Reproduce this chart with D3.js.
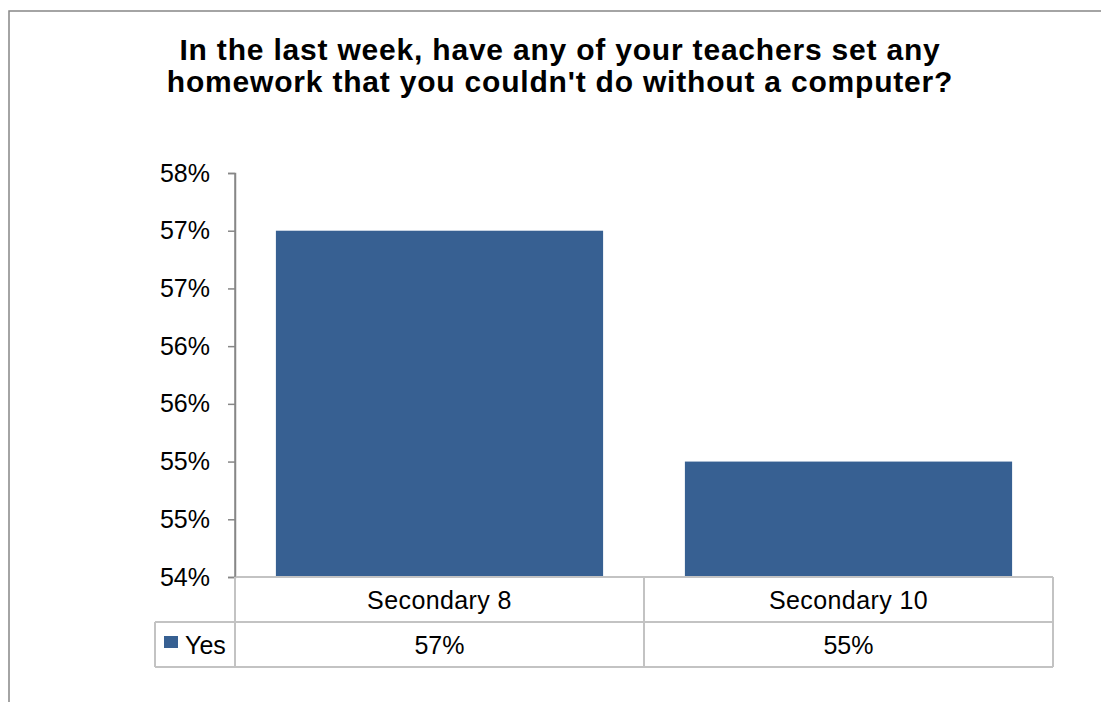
<!DOCTYPE html>
<html>
<head>
<meta charset="utf-8">
<script src="https://cdn.jsdelivr.net/npm/d3@7"></script>
<style>
  html, body { margin: 0; padding: 0; background: #fff; }
  svg { display: block; }
  text { font-family: "Liberation Sans", Arial, sans-serif; fill: #000; }
</style>
</head>
<body>
<svg id="chart" width="1101" height="702"></svg>
<script>
// Survey answer, share of pupils who said "Yes"
const titleLines = [
  "In the last week, have any of your teachers set any",
  "homework that you couldn't do without a computer?"
];
const categories = ["Secondary 8", "Secondary 10"];
const seriesName = "Yes";
const yesValues = [57, 55];
const yesLabels = ["57%", "55%"];
const tickValues = [54, 54.5, 55, 55.5, 56, 56.5, 57, 57.5];
const tickLabels = ["54%", "55%", "55%", "56%", "56%", "57%", "57%", "58%"];

const svg = d3.select("#chart");
const W = 1101, H = 702;

const plot = { left: 235, right: 1053, top: 173, bottom: 577 };
const rowH = 45;
const legendLeft = 155;
const barColor = "#376092";
const gridGray = "#c3c3c3";
const axisGray = "#878787";
const labelSize = "25px";

// outer chart frame
svg.append("rect")
  .attr("x", 9).attr("y", 11)
  .attr("width", W + 20).attr("height", H + 20)
  .attr("fill", "#fff")
  .attr("stroke", axisGray).attr("stroke-width", 1.5);

// title
svg.append("g").selectAll("text")
  .data(titleLines)
  .join("text")
  .attr("x", 560)
  .attr("y", (d, i) => 60 + i * 32)
  .attr("text-anchor", "middle")
  .style("font-size", "30px")
  .style("letter-spacing", "0.8px")
  .style("font-weight", "bold")
  .text(d => d);

const x = d3.scaleBand()
  .domain(categories)
  .range([plot.left, plot.right])
  .paddingInner(0.2)
  .paddingOuter(0.1);

const y = d3.scaleLinear()
  .domain([tickValues[0], tickValues[tickValues.length - 1]])
  .range([plot.bottom, plot.top]);

// bars
svg.append("g").selectAll("rect")
  .data(categories.map((c, i) => ({ c, v: yesValues[i] })))
  .join("rect")
  .attr("x", d => x(d.c))
  .attr("width", x.bandwidth())
  .attr("y", d => y(d.v))
  .attr("height", d => y(tickValues[0]) - y(d.v))
  .attr("fill", barColor);

// value axis
const yAxis = d3.axisLeft(y)
  .tickValues(tickValues)
  .tickFormat((d, i) => tickLabels[i])
  .tickSize(7)
  .tickPadding(18);

const yg = svg.append("g")
  .attr("transform", `translate(${plot.left},0)`)
  .call(yAxis);
yg.select(".domain").attr("stroke", axisGray).attr("stroke-width", 1.5);
yg.selectAll(".tick line").attr("stroke", axisGray).attr("stroke-width", 1.5);
yg.selectAll(".tick text")
  .style("font-size", labelSize)
  .style("font-family", "'Liberation Sans', Arial, sans-serif")
  .attr("fill", "#000");

// data table under the plot
const table = svg.append("g");
const row1 = plot.bottom, row2 = plot.bottom + rowH, row3 = plot.bottom + 2 * rowH;
const colEdges = [plot.left].concat(categories.map(c => x(c) - x.step() * x.paddingOuter() + x.step()));
colEdges[colEdges.length - 1] = plot.right;

const hLines = [
  { x1: plot.left, x2: plot.right, y: row1 },
  { x1: legendLeft, x2: plot.right, y: row2 },
  { x1: legendLeft, x2: plot.right, y: row3 }
];
table.selectAll("line.h")
  .data(hLines)
  .join("line")
  .attr("class", "h")
  .attr("x1", d => d.x1).attr("x2", d => d.x2)
  .attr("y1", d => d.y).attr("y2", d => d.y)
  .attr("stroke", gridGray).attr("stroke-width", 2);

const vLines = colEdges.map(cx => ({ x: cx, y1: row1, y2: row3 }))
  .concat([{ x: legendLeft, y1: row2, y2: row3 }]);
table.selectAll("line.v")
  .data(vLines)
  .join("line")
  .attr("class", "v")
  .attr("x1", d => d.x).attr("x2", d => d.x)
  .attr("y1", d => d.y1).attr("y2", d => d.y2)
  .attr("stroke", gridGray).attr("stroke-width", 2);

// redraw the axis segment over the table's left border
svg.append("line")
  .attr("x1", plot.left).attr("x2", plot.left)
  .attr("y1", plot.top).attr("y2", plot.bottom)
  .attr("stroke", axisGray).attr("stroke-width", 1.5);

const cellCenter = c => x(c) + x.bandwidth() / 2;

table.selectAll("text.cat")
  .data(categories)
  .join("text")
  .attr("class", "cat")
  .attr("x", cellCenter)
  .attr("y", row1 + rowH / 2 + 9)
  .attr("text-anchor", "middle")
  .style("font-size", labelSize)
  .style("letter-spacing", "0.4px")
  .text(d => d);

table.selectAll("text.val")
  .data(categories.map((c, i) => ({ c, t: yesLabels[i] })))
  .join("text")
  .attr("class", "val")
  .attr("x", d => cellCenter(d.c))
  .attr("y", row2 + rowH / 2 + 9)
  .attr("text-anchor", "middle")
  .style("font-size", labelSize)
  .text(d => d.t);

// legend key in the table's row header
table.append("rect")
  .attr("x", 164).attr("y", 636)
  .attr("width", 14).attr("height", 12)
  .attr("fill", barColor);
table.append("text")
  .attr("x", 185)
  .attr("y", row2 + rowH / 2 + 9)
  .style("font-size", labelSize)
  .text(seriesName);
</script>
</body>
</html>
